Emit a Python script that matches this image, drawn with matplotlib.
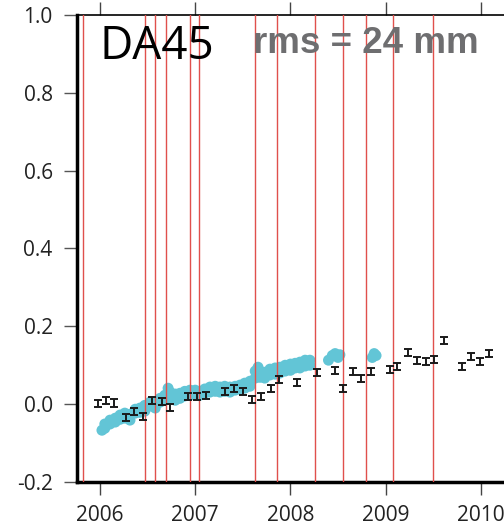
import matplotlib
matplotlib.use("Agg")
import matplotlib.pyplot as plt

plt.rcParams['axes.unicode_minus'] = False

# event epochs (red vertical lines)
event_years = [2005.821, 2006.473, 2006.578, 2006.693, 2006.945, 2007.040,
               2007.628, 2007.859, 2008.258, 2008.553, 2008.794, 2009.078, 2009.498]

# black points with error bars
pt_years = [2005.976, 2006.060, 2006.150, 2006.270, 2006.357, 2006.455, 2006.546,
            2006.651, 2006.735, 2006.928, 2007.016, 2007.110, 2007.313, 2007.408,
            2007.505, 2007.600, 2007.691, 2007.793, 2007.883, 2008.072, 2008.276,
            2008.465, 2008.556, 2008.658, 2008.742, 2008.844, 2009.043, 2009.123,
            2009.235, 2009.327, 2009.421, 2009.512, 2009.610, 2009.806, 2009.894,
            2009.992, 2010.086]
pt_vals = [0.002, 0.010, 0.003, -0.035, -0.020, -0.031, 0.010,
           0.008, -0.008, 0.019, 0.019, 0.023, 0.033, 0.039,
           0.033, 0.012, 0.019, 0.041, 0.064, 0.056, 0.081,
           0.087, 0.039, 0.085, 0.066, 0.085, 0.090, 0.098,
           0.132, 0.113, 0.109, 0.115, 0.163, 0.096, 0.123,
           0.109, 0.129]
pt_err = 0.009

# cyan cloud
cyan_years = [2006.02, 2006.05, 2006.05, 2006.105, 2006.105, 2006.16, 2006.16, 2006.21,
              2006.21, 2006.26, 2006.26, 2006.315, 2006.315, 2006.37, 2006.37, 2006.42,
              2006.42, 2006.47, 2006.47, 2006.525, 2006.525, 2006.58, 2006.58, 2006.63,
              2006.63, 2006.68, 2006.68, 2006.715, 2006.735, 2006.735, 2006.79, 2006.79,
              2006.84, 2006.84, 2006.89, 2006.89, 2006.945, 2006.945, 2007.0, 2007.0,
              2007.05, 2007.05, 2007.10, 2007.10, 2007.155, 2007.155, 2007.21, 2007.21,
              2007.26, 2007.26, 2007.31, 2007.31, 2007.365, 2007.365, 2007.42, 2007.42,
              2007.47, 2007.47, 2007.52, 2007.52, 2007.575, 2007.575, 2007.63, 2007.63,
              2007.66, 2007.68, 2007.68, 2007.73, 2007.73, 2007.785, 2007.785, 2007.84,
              2007.84, 2007.89, 2007.89, 2007.945, 2007.945, 2008.0, 2008.0, 2008.05,
              2008.05, 2008.10, 2008.10, 2008.155, 2008.155, 2008.205, 2008.205,
              2008.40, 2008.44, 2008.47, 2008.50, 2008.52, 2008.86, 2008.88, 2008.90]
cyan_vals = [-0.067, -0.062, -0.051, -0.051, -0.041, -0.046, -0.036, -0.039,
             -0.028, -0.036, -0.023, -0.041, -0.026, -0.023, -0.013, -0.021,
             -0.010, -0.018, -0.003, -0.005, 0.005, -0.010, 0.003, 0.005,
             0.015, 0.010, 0.023, 0.041, 0.013, 0.031, 0.010, 0.026,
             0.015, 0.028, 0.021, 0.033, 0.023, 0.036, 0.026, 0.036,
             0.023, 0.033, 0.028, 0.039, 0.031, 0.044, 0.033, 0.046,
             0.031, 0.044, 0.033, 0.046, 0.031, 0.044, 0.036, 0.046,
             0.039, 0.049, 0.041, 0.054, 0.046, 0.059, 0.067, 0.085,
             0.095, 0.069, 0.085, 0.067, 0.082, 0.075, 0.090, 0.077,
             0.093, 0.080, 0.095, 0.085, 0.100, 0.087, 0.103, 0.093,
             0.105, 0.093, 0.108, 0.098, 0.113, 0.100, 0.113,
             0.113, 0.125, 0.130, 0.120, 0.127, 0.120, 0.130, 0.125]

year_ticks = [2006, 2007, 2008, 2009, 2010]
y_ticks = [-0.2, 0.0, 0.2, 0.4, 0.6, 0.8, 1.0]

fig = plt.figure(figsize=(5.04, 5.28), dpi=100)
ax = fig.add_axes([77/504, 46/528, 1 - 77/504, 467/528])

ax.scatter(cyan_years, cyan_vals, s=62, color='#62c5d6', edgecolors='none', zorder=2)
for ey in event_years:
    ax.axvline(ey, color='#e0504c', lw=1.0, zorder=3)
ax.errorbar(pt_years, pt_vals, yerr=pt_err, fmt='none', ecolor='#1a1a1a',
            elinewidth=1.4, capsize=2.8, capthick=1.4, zorder=4)

ax.set_xlim(2005.758, 2010.244)
ax.set_ylim(-0.2, 1.0)
ax.set_xticks(year_ticks)
ax.set_xticklabels([str(y) for y in year_ticks])
ax.set_yticks(y_ticks)
ax.set_yticklabels(['%.1f' % v for v in y_ticks])

ax.spines['right'].set_visible(False)
ax.spines['left'].set_linewidth(2.5)
ax.spines['bottom'].set_linewidth(2.5)
ax.spines['top'].set_linewidth(1.2)

ax.tick_params(axis='x', which='both', top=True, direction='out', length=9.5,
               width=1.0, color='#444444', labelsize=15, labelcolor='#222222', pad=7)
ax.tick_params(axis='y', direction='out', length=9.5, width=1.0, color='#555555',
               labelsize=15, labelcolor='#222222', pad=8)
for lab in ax.get_xticklabels() + ax.get_yticklabels():
    lab.set_family('Open Sans')

fig.text(99/504, 1 - 59/528, 'DA45', fontsize=33, family='Open Sans',
         color='black', ha='left', va='baseline')
fig.text(253/504, 1 - 53/528, 'rms = 24 mm', fontsize=26.5, family='Liberation Sans',
         fontweight='bold', color='#6e6e70', ha='left', va='baseline')

fig.savefig('out.png', dpi=100)
